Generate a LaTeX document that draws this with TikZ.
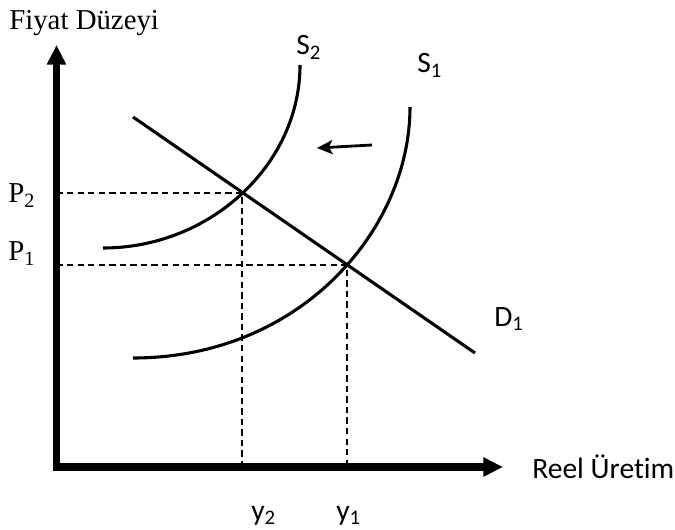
\documentclass[tikz,border=0pt]{standalone}
\usepackage{fontspec}
\setmainfont{Liberation Serif}
\setsansfont{Carlito}[Ligatures=NoCommon]
\usetikzlibrary{arrows.meta}

\begin{document}
\begin{tikzpicture}[x=0.025cm, y=-0.025cm,
  axis/.style={line width=5pt, -{Triangle[length=14pt, width=13pt]}},
  curve/.style={line width=2.2pt},
  guide/.style={line width=1.1pt, dash pattern=on 4.5pt off 3pt},
  serif lbl/.style={inner sep=0pt, font=\fontsize{20.5}{24}\selectfont},
  sans lbl/.style={inner sep=0pt, font=\sffamily\fontsize{21}{25}\selectfont}]
\useasboundingbox (0,0) rectangle (675,530);

\coordinate (O) at (56.5,467);
\coordinate (ytip) at (56.5,45);
\coordinate (xtip) at (503,467);
\coordinate (E2) at (242,193);
\coordinate (E1) at (347,265);
\coordinate (Dtop) at (133,117);
\coordinate (Dend) at (475,353);
\coordinate (S2low) at (103,248);
\coordinate (S2high) at (300,65);
\coordinate (S1low) at (133,358);
\coordinate (S1high) at (410,107);
\coordinate (shiftA) at (372,145);
\coordinate (shiftB) at (317,148);

% dashed guides to the axes
\draw[guide] (O|-E2) -- (E2) -- (E2|-O);
\draw[guide] (O|-E1) -- (E1) -- (E1|-O);

% axes
\draw[axis] ([yshift=-2.5pt]O) -- (ytip);
\draw[axis] ([xshift=-2.5pt]O) -- (xtip);

% supply and demand
\draw[curve] (S2low) .. controls (210,248) and (300,165) .. (S2high);
\draw[curve] (S1low) .. controls (300,358) and (410,230) .. (S1high);
\draw[curve] (Dtop) -- (Dend);
\draw[line width=2pt, -{Stealth[length=11pt, width=10pt, inset=2.5pt]}] (shiftA) -- (shiftB);

% labels
\node[serif lbl, anchor=base west] (ylab) at (9,30) {Fiyat Düzeyi};
\node[serif lbl, anchor=base west] (p2) at (8,203) {P\textsubscript{2}};
\node[serif lbl, anchor=base west] (p1) at (8,261) {P\textsubscript{1}};
\node[sans lbl, anchor=base west] (xlab) at (532,478) {Reel Üretim};
\node[sans lbl, anchor=base west] (s2) at (296,55) {S\textsubscript{2}};
\node[sans lbl, anchor=base west] (s1) at (417,73) {S\textsubscript{1}};
\node[sans lbl, anchor=base west] (d1) at (494,326) {D\textsubscript{1}};
\node[sans lbl, anchor=base west] (y2) at (251,520) {y\textsubscript{2}};
\node[sans lbl, anchor=base west] (y1) at (336,520) {y\textsubscript{1}};
\end{tikzpicture}
\end{document}
